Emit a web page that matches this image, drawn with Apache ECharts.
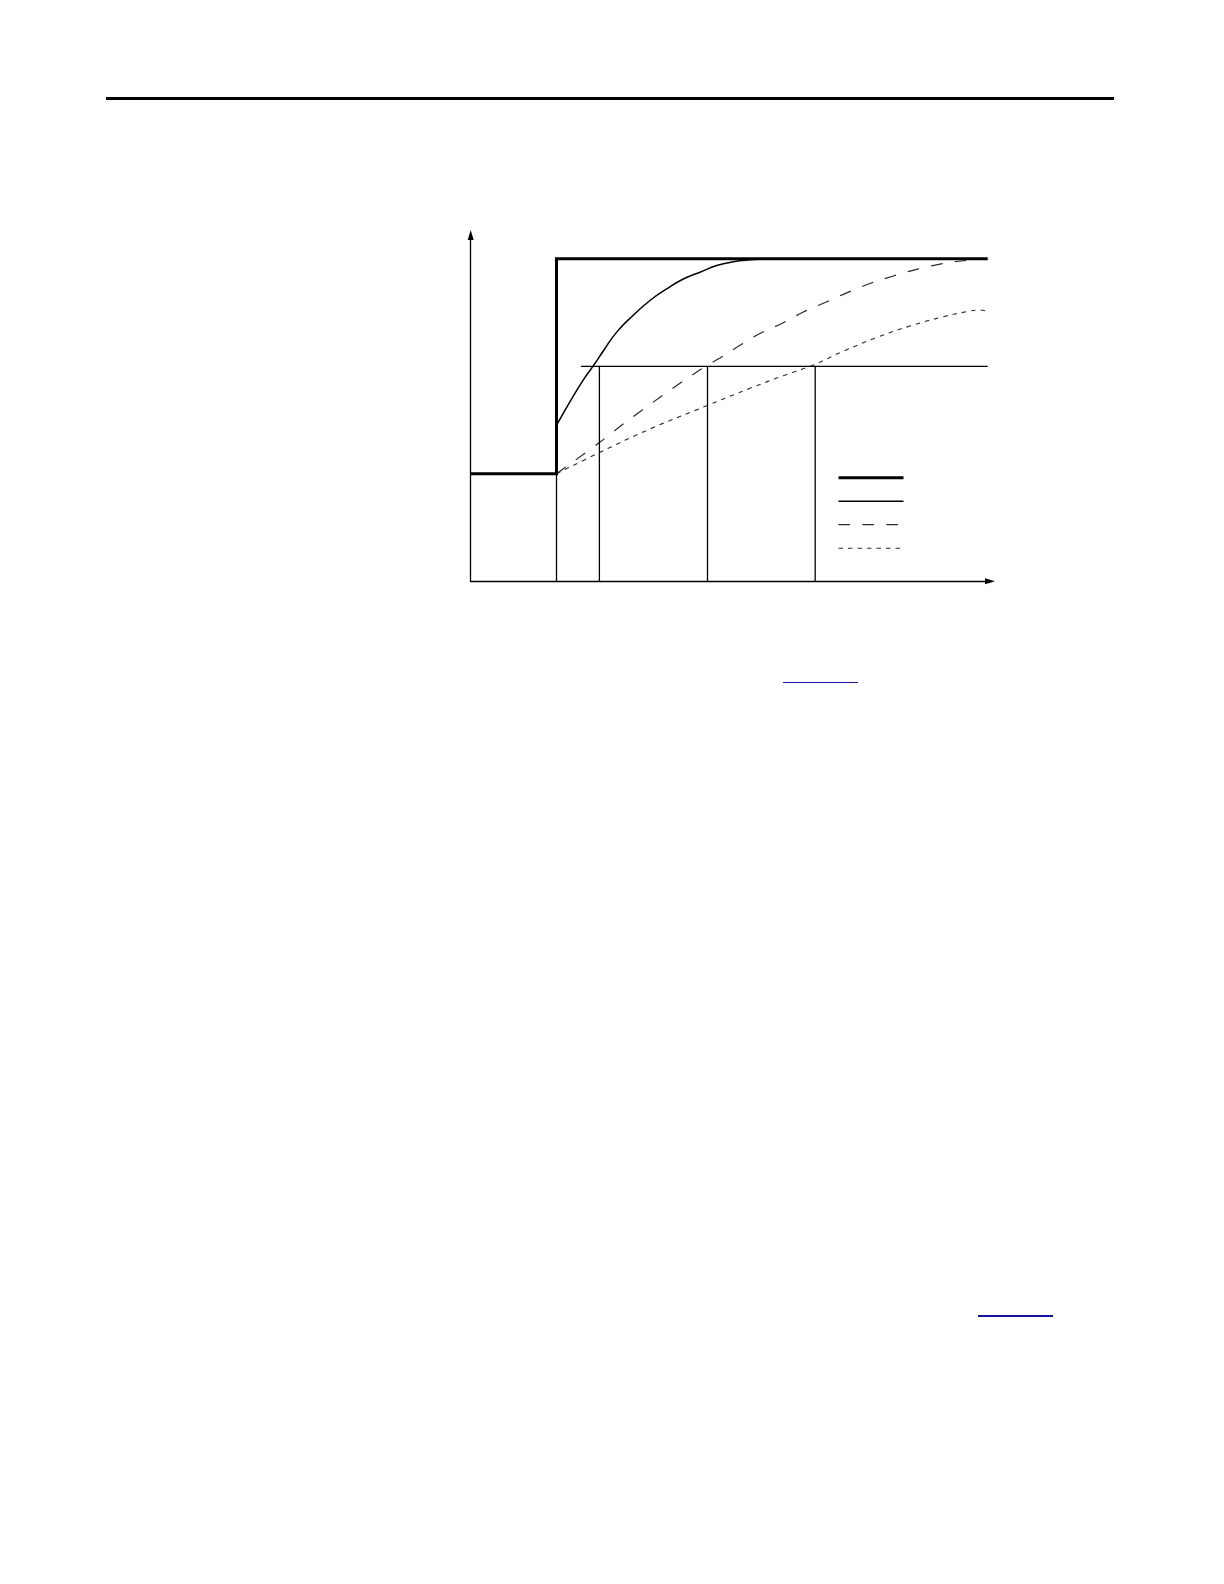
<!DOCTYPE html>
<html>
<head>
<meta charset="utf-8">
<script src="https://cdn.jsdelivr.net/npm/echarts@6/dist/echarts.min.js"></script>
<style>
  html, body { margin: 0; padding: 0; background: #ffffff; }
  #page { position: relative; width: 1224px; height: 1584px; overflow: hidden; background: #fff; }
  #chart { position: absolute; left: 0; top: 0; width: 1224px; height: 1584px; }
  .rule { position: absolute; left: 106px; top: 97px; width: 1008px; height: 3px; background: #000; }
  .link { position: absolute; height: 1.2px; background: #1414a0; }
</style>
</head>
<body>
<div id="page">
  <div class="rule"></div>
  <div id="chart"></div>
  <div class="link" style="left:783px; top:681.6px; width:75px;"></div>
  <div class="link" style="left:978px; top:1315.4px; width:75px;"></div>
</div>
<script>
// ---- data (time units on x, level units on y) ----
const stepT = [0, 2, 2, 12.05];
const stepV = [1, 1, 3, 3];

const solidT = [2, 2.315, 2.625, 2.858, 3.091, 3.403, 3.790, 4.179, 4.569, 4.956, 5.345, 5.734, 6.121, 6.510, 6.9];
const solidV = [1.45, 1.671, 1.873, 2.005, 2.142, 2.318, 2.475, 2.612, 2.720, 2.812, 2.875, 2.937, 2.972, 2.99, 3.0];

const dashedT = [2, 3.014, 3.480, 3.946, 4.413, 4.879, 5.501, 5.811, 6.277, 6.743, 7.287, 7.753, 8.298, 8.765, 9.308, 9.851, 10.396, 10.939, 11.483, 12.05];
const dashedV = [1.0, 1.295, 1.44, 1.578, 1.712, 1.842, 2.006, 2.078, 2.195, 2.305, 2.405, 2.505, 2.600, 2.683, 2.770, 2.840, 2.902, 2.950, 2.982, 3.0];

const dottedT = [2, 3.014, 4.179, 5.501, 6.510, 7.287, 7.986, 8.685, 9.464, 10.240, 11.016, 11.562, 11.872, 12.05];
const dottedV = [1.0, 1.2, 1.417, 1.633, 1.795, 1.913, 2.012, 2.14, 2.268, 2.375, 2.461, 2.508, 2.524, 2.51];

const stepTime = 2;
const lowLevel = 1;
const thresholdLevel = 2.0;
const thresholdSpan = [2.57, 12.05];
const crossTimes = [3.0, 5.52, 8.03];

const seriesNames = ['Step', 'Curve 1', 'Curve 2', 'Curve 3'];

// ---- build ----
const zip = (xs, ys) => xs.map((x, i) => [x, ys[i]]);

const thin = { color: '#000', width: 1.3 };

const series = [
  { name: seriesNames[0], type: 'line', data: zip(stepT, stepV), symbol: 'none', z: 5,
    lineStyle: { color: '#000', width: 3, join: 'miter' } },
  { name: seriesNames[1], type: 'line', data: zip(solidT, solidV), symbol: 'none', smooth: 0.5, z: 4,
    lineStyle: { color: '#000', width: 1.5 } },
  { name: seriesNames[2], type: 'line', data: zip(dashedT, dashedV), symbol: 'none', smooth: 0.4, z: 3,
    lineStyle: { color: '#2a2a2a', width: 1.2, type: [11.5, 12.5] } },
  { name: seriesNames[3], type: 'line', data: zip(dottedT, dottedV), symbol: 'none', smooth: 0.4, z: 3,
    lineStyle: { color: '#2a2a2a', width: 1.1, type: [4.5, 5] } },
  { type: 'line', data: [[stepTime, 0], [stepTime, lowLevel]], symbol: 'none', lineStyle: thin, silent: true },
  { type: 'line', data: [[thresholdSpan[0], thresholdLevel], [thresholdSpan[1], thresholdLevel]], symbol: 'none', lineStyle: thin, silent: true }
].concat(crossTimes.map(t => ({
  type: 'line', data: [[t, 0], [t, thresholdLevel]], symbol: 'none', lineStyle: thin, silent: true
})));

const chart = echarts.init(document.getElementById('chart'), null, { renderer: 'canvas' });
chart.setOption({
  animation: false,
  backgroundColor: 'transparent',
  grid: { left: 470.7, top: 235, width: 519.3, height: 346.3, containLabel: false },
  xAxis: {
    type: 'value', min: 0, max: 12.105,
    axisLine: { show: true, lineStyle: { color: '#000', width: 1.3 }, symbol: ['none', 'triangle'], symbolSize: [6, 10] },
    axisTick: { show: false }, axisLabel: { show: false }, splitLine: { show: false }
  },
  yAxis: {
    type: 'value', min: 0, max: 3.2214,
    axisLine: { show: true, lineStyle: { color: '#000', width: 1.3 }, symbol: ['none', 'triangle'], symbolSize: [6, 10] },
    axisTick: { show: false }, axisLabel: { show: false }, splitLine: { show: false }
  },
  legend: {
    show: true,
    data: seriesNames,
    orient: 'vertical',
    left: 837, top: 470.7,
    padding: 0,
    itemWidth: 65, itemHeight: 14, itemGap: 9.5,
    selectedMode: false,
    formatter: () => ' ',
    textStyle: { fontSize: 8, lineHeight: 14 },
    itemStyle: { opacity: 0, color: 'rgba(0,0,0,0)', borderWidth: 0 },
    lineStyle: { width: 'inherit' }
  },
  series: series
});
</script>
</body>
</html>
